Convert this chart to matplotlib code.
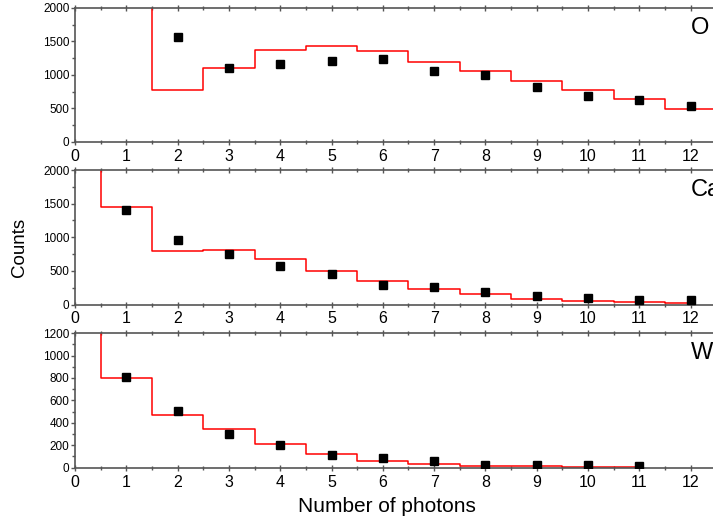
import numpy as np
import matplotlib.pyplot as plt
from matplotlib.ticker import MultipleLocator

plt.rcParams['font.family'] = ['Liberation Sans', 'DejaVu Sans']

# measured points (Number of photons -> Counts)
n_O = [2, 3, 4, 5, 6, 7, 8, 9, 10, 11, 12]
c_O = [1574, 1099, 1168, 1208, 1233, 1059, 1000, 822, 688, 624, 535]
n_Ca = [1, 2, 3, 4, 5, 6, 7, 8, 9, 10, 11, 12]
c_Ca = [1406, 960, 748, 579, 455, 297, 257, 183, 129, 104, 69, 64]
n_W = [1, 2, 3, 4, 5, 6, 7, 8, 9, 10, 11]
c_W = [804, 503, 304, 202, 113, 89, 57, 27, 21, 21, 18]

# model curves (steps), first values run off the top of the panels
m_n_O = [0, 1, 2, 3, 4, 5, 6, 7, 8, 9, 10, 11, 12, 13]
m_O = [3000, 3000, 782, 1109, 1376, 1431, 1351, 1198, 1054, 911, 782, 639, 495, 430]
m_n_Ca = [0, 1, 2, 3, 4, 5, 6, 7, 8, 9, 10, 11, 12]
m_Ca = [3000, 1446, 797, 812, 673, 500, 347, 228, 149, 84, 45, 30, 15]
m_n_W = [0, 1, 2, 3, 4, 5, 6, 7, 8, 9, 10, 11]
m_W = [3000, 798, 467, 348, 214, 125, 62, 30, 18, 15, 9, 6]

panels = [
    ('O', n_O, c_O, m_n_O, m_O, 2000, 500, 250),
    ('Ca', n_Ca, c_Ca, m_n_Ca, m_Ca, 2000, 500, 250),
    ('W', n_W, c_W, m_n_W, m_W, 1200, 200, 100),
]
# [bottom, height] in figure fraction
boxes = [(0.7306, 0.2543), (0.4222, 0.2552), (0.1125, 0.2555)]

fig = plt.figure(figsize=(7.13, 5.27), dpi=100)
spine_col = '#555555'
left = 75 / 713
width = 12.6 * 51.3 / 713

for (name, nx, cy, mx, my, ymax, maj, mnr), (b, h) in zip(panels, boxes):
    ax = fig.add_axes([left, b, width, h])
    ax.step(mx, my, where='mid', color='red', lw=1.1, zorder=2)
    ax.plot(nx, cy, 's', color='black', ms=6, zorder=3)
    ax.set_xlim(0, 12.6)
    ax.set_ylim(0, ymax)
    ax.xaxis.set_major_locator(MultipleLocator(1))
    ax.xaxis.set_minor_locator(MultipleLocator(0.5))
    ax.yaxis.set_major_locator(MultipleLocator(maj))
    ax.yaxis.set_minor_locator(MultipleLocator(mnr))
    ax.tick_params(axis='x', which='both', direction='inout', top=True,
                   length=4, width=1, color=spine_col, labelsize=11.5, pad=3)
    ax.tick_params(axis='x', which='minor', length=3)
    ax.tick_params(axis='y', which='major', direction='out', length=3,
                   width=1, color=spine_col, labelsize=8.5, pad=1)
    ax.tick_params(axis='y', which='minor', direction='out', length=2,
                   width=1, color=spine_col)
    for s in ax.spines.values():
        s.set_color(spine_col)
        s.set_linewidth(1.2)
    ax.text(0.953, 0.85, name, transform=ax.transAxes, fontsize=17,
            ha='left', va='center')

fig.text(0.028, 0.531, 'Counts', rotation=90, fontsize=13.5, va='center', ha='center')
fig.text(387 / 713, 0.038, 'Number of photons', fontsize=15, ha='center', va='center')

fig.savefig('out.png', dpi=100)
